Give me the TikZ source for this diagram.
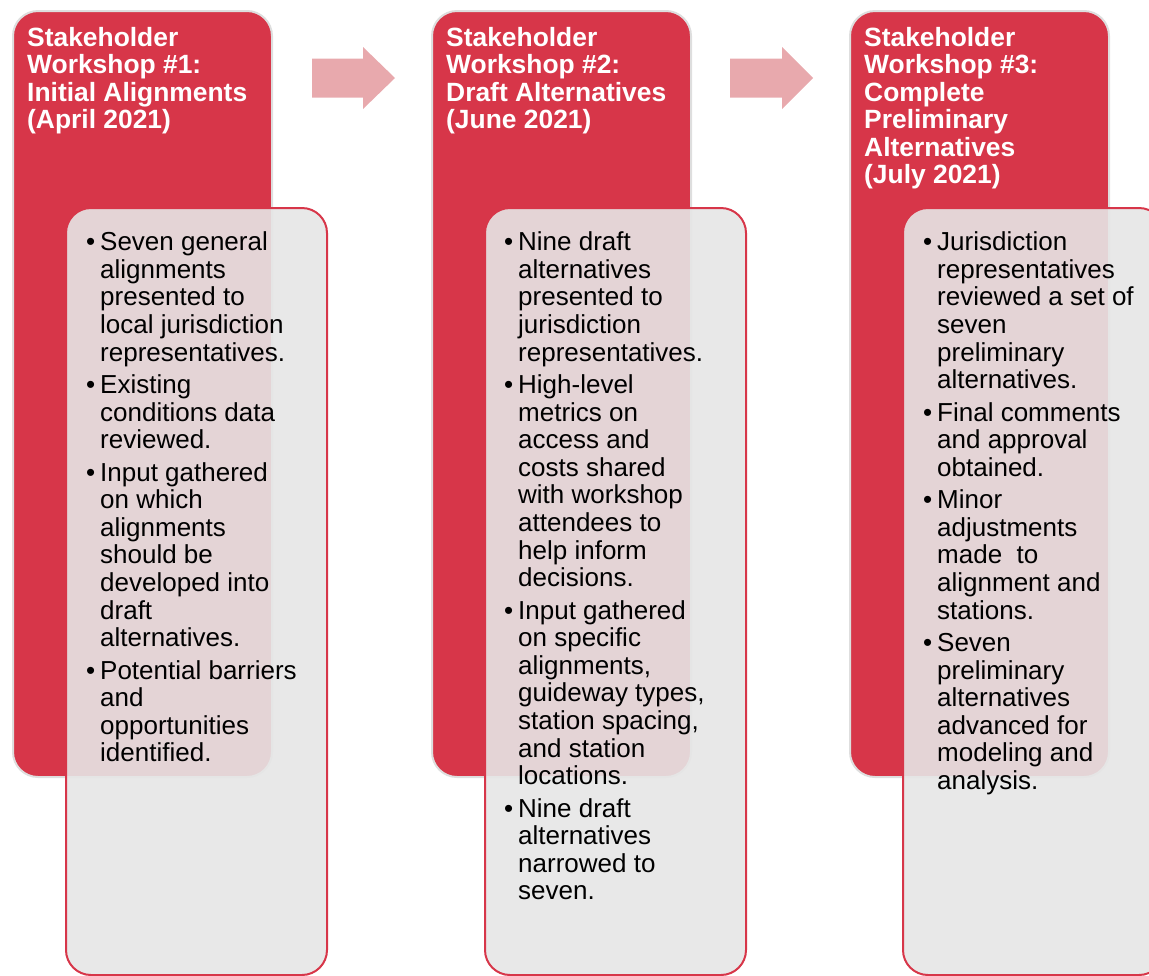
\documentclass[tikz,border=0pt]{standalone}
\usepackage{fontspec}
\setmainfont{Liberation Sans}
\definecolor{wsred}{RGB}{215,54,73}
\definecolor{wsgray}{RGB}{230,230,230}
\definecolor{wsarrow}{RGB}{232,169,173}
\definecolor{wsedge}{RGB}{222,222,222}
\newcommand{\bul}{\makebox[14pt][l]{\textbullet}}
\newcommand{\ind}{\hspace*{14pt}}
\newcommand{\fl}{\rule{0pt}{20pt}}
\begin{document}
\begin{tikzpicture}[x=1pt,y=-1pt,
  redbox/.style={fill=wsred,draw=wsedge,line width=2pt,rounded corners=25pt,minimum width=259pt,minimum height=766pt,anchor=north west,inner sep=0pt},
  graybox/.style={fill=wsgray,fill opacity=0.9,draw=wsred,line width=2pt,rounded corners=25pt,minimum width=261pt,minimum height=767pt,anchor=north west,inner sep=0pt},
  headtxt/.style={anchor=north west,inner sep=0pt,align=left,text=white,font=\fontsize{26.4}{27.5}\selectfont\bfseries},
  bodytxt/.style={anchor=north west,inner sep=0pt,align=left,text=black,font=\fontsize{26}{27.6}\selectfont},
  flowarrow/.style={fill=wsarrow}]
\useasboundingbox (0,0) rectangle (1149,975);
\clip (0,0) rectangle (1149,975);

% Workshop 1
\node[redbox] (r1) at (12,10) {};
\node[headtxt] (h1) at (27,26) {\fl Stakeholder\\Workshop \#1:\\Initial Alignments\\(April 2021)};
\node[graybox] (g1) at (65,207) {};
\node[bodytxt] (b1) at (86,230.5) {\fl\bul Seven general\\\ind alignments\\\ind presented to\\\ind local jurisdiction\\\ind representatives.\\[4.8pt]
\bul Existing\\\ind conditions data\\\ind reviewed.\\[4.8pt]
\bul Input gathered\\\ind on which\\\ind alignments\\\ind should be\\\ind developed into\\\ind draft\\\ind alternatives.\\[4.8pt]
\bul Potential barriers\\\ind and\\\ind opportunities\\\ind identified.};

% Workshop 2
\node[redbox] (r2) at (431,10) {};
\node[headtxt] (h2) at (446,26) {\fl Stakeholder\\Workshop \#2:\\Draft Alternatives\\(June 2021)};
\node[graybox] (g2) at (484,207) {};
\node[bodytxt] (b2) at (504,230.5) {\fl\bul Nine draft\\\ind alternatives\\\ind presented to\\\ind jurisdiction\\\ind representatives.\\[4.8pt]
\bul High-level\\\ind metrics on\\\ind access and\\\ind costs shared\\\ind with workshop\\\ind attendees to\\\ind help inform\\\ind decisions.\\[4.8pt]
\bul Input gathered\\\ind on specific\\\ind alignments,\\\ind guideway types,\\\ind station spacing,\\\ind and station\\\ind locations.\\[4.8pt]
\bul Nine draft\\\ind alternatives\\\ind narrowed to\\\ind seven.};

% Workshop 3
\node[redbox] (r3) at (849,10) {};
\node[headtxt] (h3) at (864,26) {\fl Stakeholder\\Workshop \#3:\\Complete\\Preliminary\\Alternatives\\(July 2021)};
\node[graybox] (g3) at (902,207) {};
\node[bodytxt] (b3) at (923,230.5) {\fl\bul Jurisdiction\\\ind representatives\\\ind reviewed a set of\\\ind seven\\\ind preliminary\\\ind alternatives.\\[4.8pt]
\bul Final comments\\\ind and approval\\\ind obtained.\\[4.8pt]
\bul Minor\\\ind adjustments\\\ind made\ \ to\\\ind alignment and\\\ind stations.\\[4.8pt]
\bul Seven\\\ind preliminary\\\ind alternatives\\\ind advanced for\\\ind modeling and\\\ind analysis.};

% Arrows between workshops
\fill[flowarrow] (312,58.5) -- (363,58.5) -- (363,47) -- (395,78) -- (363,109) -- (363,97.5) -- (312,97.5) -- cycle;
\fill[flowarrow] (730,58.5) -- (782,58.5) -- (782,47) -- (813,78) -- (782,109) -- (782,97.5) -- (730,97.5) -- cycle;
\end{tikzpicture}
\end{document}
